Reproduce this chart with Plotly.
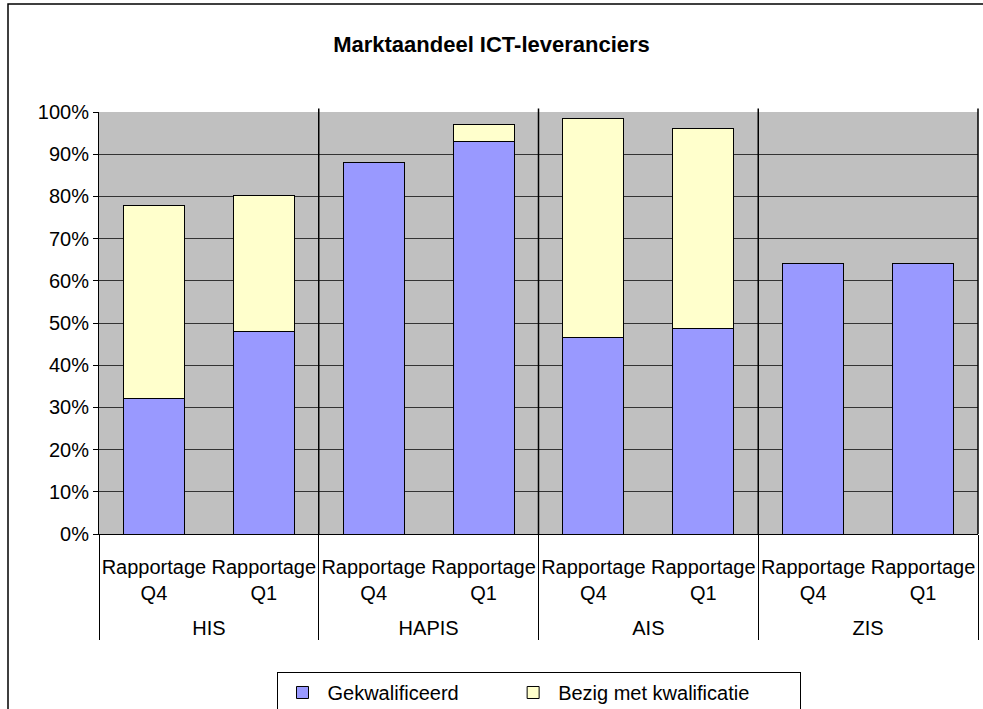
import plotly.graph_objects as go

groups = ["HIS", "HIS", "HAPIS", "HAPIS", "AIS", "AIS", "ZIS", "ZIS"]
periods = ["Rapportage<br>Q4", "Rapportage<br>Q1"] * 4
gekwalificeerd = [0.32, 0.48, 0.88, 0.93, 0.465, 0.487, 0.641, 0.641]
bezig = [0.458, 0.321, 0.0, 0.04, 0.52, 0.475, 0.0, 0.0]
series_names = ["Gekwalificeerd", "Bezig met kwalificatie"]
colors = ["#9999FF", "#FFFFCC"]
title_text = "Marktaandeel ICT-leveranciers"

FONT = "Liberation Sans, Arial, sans-serif"

# leading line break pushes the group label one line lower, like the reference
group_labels = ["<br>" + g for g in groups]
# trailing non-breaking spaces widen the legend entries like the reference
legend_pad = ["\u00a0" * 8, "\u00a0" * 8]

fig = go.Figure()
for name, vals, col, pad in zip(series_names, [gekwalificeerd, bezig], colors, legend_pad):
    fig.add_trace(go.Bar(
        x=[group_labels, periods], y=vals, name=name + pad,
        marker=dict(color=col, line=dict(color="#000000", width=1)),
    ))

fig.update_layout(
    width=983, height=709,
    barmode="stack", bargap=0.445,
    paper_bgcolor="white", plot_bgcolor="#C0C0C0",
    margin=dict(l=99, r=5, t=112, b=175, autoexpand=False),
    font=dict(family=FONT, size=20, color="#000"),
    title=dict(text="<b>" + title_text + "</b>", x=0.5, xref="container",
               y=1 - 44 / 709, yanchor="middle", font=dict(size=22, family=FONT)),
    showlegend=True,
    legend=dict(orientation="h", x=0.5, xanchor="center", y=-0.327, yanchor="top",
                bordercolor="#000", borderwidth=1, bgcolor="white",
                font=dict(size=20), itemwidth=40,
                traceorder="normal"),
)
fig.update_yaxes(range=[0, 1], dtick=0.1, tickformat=".0%", showgrid=True,
                 gridcolor="#333333", gridwidth=1, showline=True, linecolor="#000",
                 linewidth=1, ticks="outside", ticklen=5, tickcolor="#000",
                 zeroline=False, fixedrange=True, tickfont=dict(size=20), automargin=False)
fig.update_xaxes(showline=True, linecolor="#000", linewidth=1, showgrid=False,
                 showdividers=True, dividercolor="#000", dividerwidth=1,
                 ticks="", tickfont=dict(size=20), tickangle=0, automargin=False,
                 ticklabelstandoff=15)

# vertical group separators inside the plot area
for xp in [0.25, 0.5, 0.75, 1.0]:
    fig.add_shape(type="line", xref="paper", yref="paper", x0=xp, x1=xp,
                  y0=0, y1=1.008, line=dict(color="#000", width=1.5))

# outer chart border
fig.add_shape(type="rect", xref="paper", yref="paper",
              x0=(8 - 99) / 879, x1=(990 - 99) / 879,
              y0=(534 - 720) / 422, y1=(534 - 4) / 422,
              line=dict(color="#000", width=1.5), fillcolor="rgba(0,0,0,0)", layer="below")

fig.write_html("out.html", config={"displayModeBar": False},
               post_script="document.body.style.margin='0';"
                           "document.body.style.overflow='hidden';"
                           "document.documentElement.style.overflow='hidden';")
